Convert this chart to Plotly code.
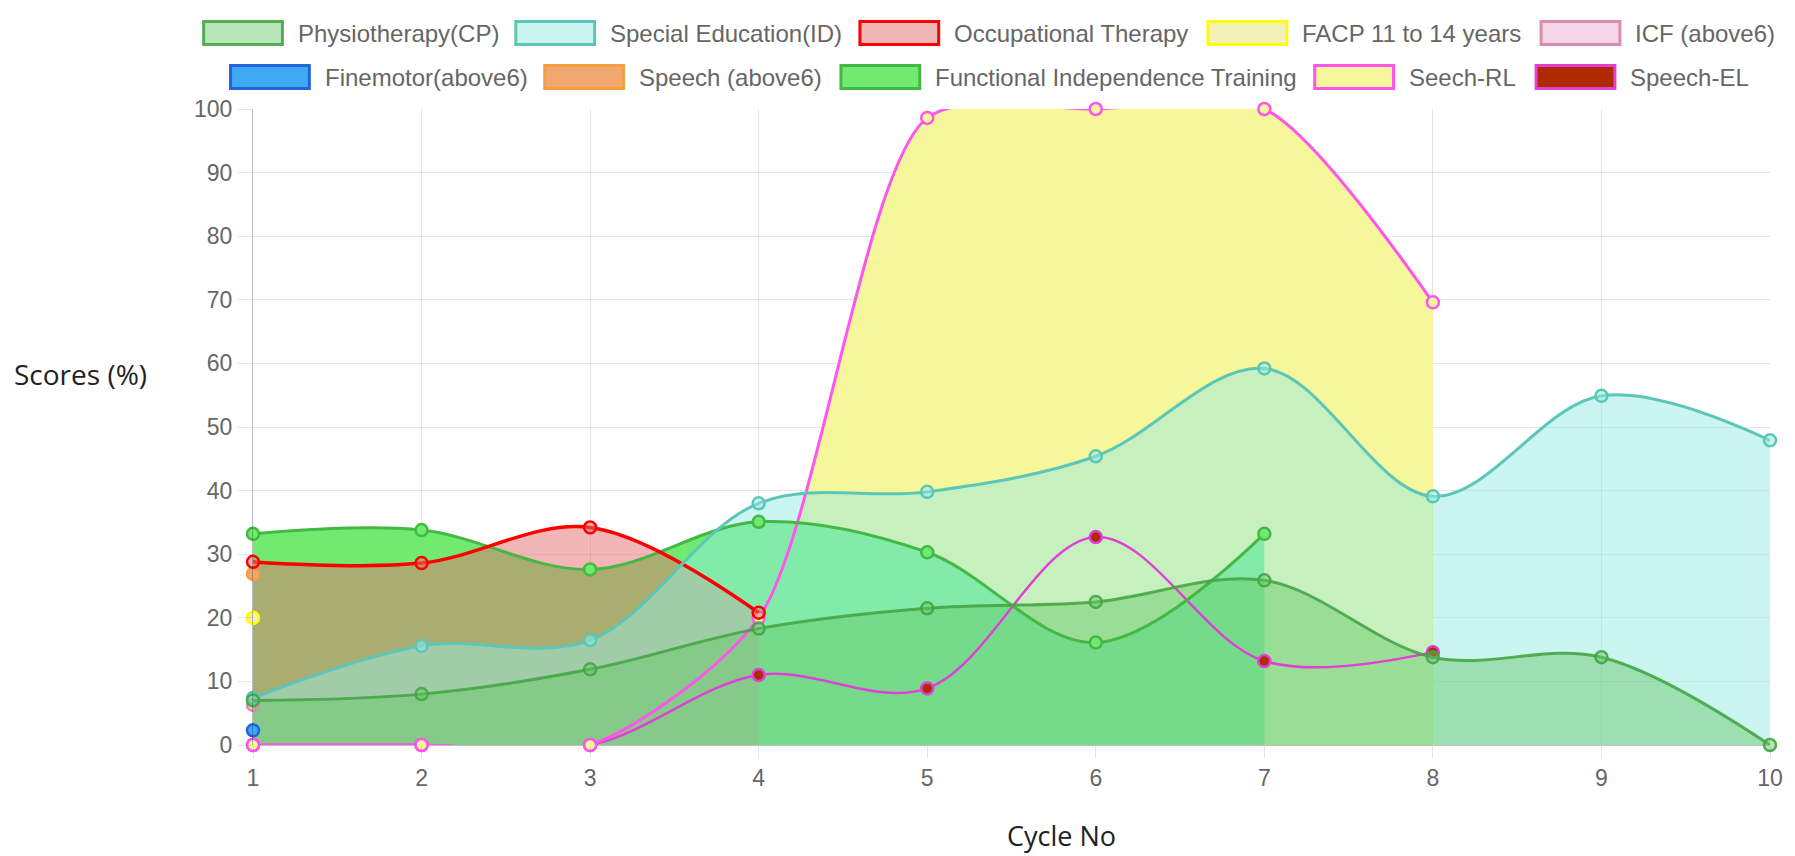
import plotly.graph_objects as go

# ---------------- data ----------------
cycles = [1, 2, 3, 4, 5, 6, 7, 8, 9, 10]
tick_labels = ["1", "2", "3", "4", "5", "6", "7", "8", "9", "10"]

physiotherapy = [7.0, 8.0, 11.9, 18.3, 21.5, 22.5, 25.9, 13.8, 13.8, 0]
special_education = [7.4, 15.6, 16.5, 38.0, 39.8, 45.4, 59.2, 39.1, 54.9, 47.9]
occupational = [28.8, 28.6, 34.2, 20.8]
facp = [20.0]
icf = [6.3]
finemotor = [2.3]
speech_above6 = [26.9]
functional = [33.2, 33.8, 27.6, 35.1, 30.3, 16.1, 33.2]
seech_rl = [0, 0, 0, 20.0, 98.6, 100, 100, 69.6]
speech_el = [0, 0, 0, 11.0, 8.9, 32.7, 13.2, 14.6]

# name, values, fill(rgba), border, point fill, has area fill, line width, smoothing
series = [
    ("Physiotherapy(CP)", physiotherapy, "rgba(100,200,100,0.45)", "rgba(70,165,70,0.9)", "rgba(100,200,100,0.45)", True, 3, 1.0),
    ("Special Education(ID)", special_education, "rgba(150,235,225,0.5)", "#5cc6b8", "rgba(150,235,225,0.5)", True, 3, 1.0),
    ("Occupational Therapy", occupational, "rgba(230,110,110,0.5)", "#ff0000", "rgba(230,110,110,0.5)", True, 3.5, 1.0),
    ("FACP 11 to 14 years", facp, "rgba(220,220,80,0.4)", "#ffff00", "rgba(240,240,190,1)", False, 3, 1.0),
    ("ICF (above6)", icf, "rgba(230,150,200,0.4)", "#d98fac", "rgba(230,150,200,0.4)", False, 3, 1.0),
    ("Finemotor(above6)", finemotor, "#3fa9f5", "#2563d9", "#3fa9f5", False, 3, 1.0),
    ("Speech (above6)", speech_above6, "#f0a870", "#f5a040", "#f0a870", False, 3, 1.0),
    ("Functional Independence Training", functional, "#70ea70", "#44b844", "#70ea70", True, 3, 1.0),
    ("Seech-RL", seech_rl, "#f6f79a", "#ff55ee", "#f6f79a", True, 3, 0.75),
    ("Speech-EL", speech_el, "#b02a00", "#e040d8", "#b02a00", False, 2.5, 1.0),
]

fig = go.Figure()

# fills first (Chart.js draws all fills before lines), last dataset first
for name, vals, fill, border, pfill, has_fill, lw, sm in reversed(series):
    if not has_fill:
        continue
    fig.add_trace(go.Scatter(
        x=cycles[:len(vals)], y=vals, mode="lines", fill="tozeroy",
        fillcolor=fill, line=dict(width=0, shape="spline", smoothing=sm, color=fill),
        hoverinfo="skip", showlegend=False))

# lines and points, last dataset first so dataset 0 ends on top
for name, vals, fill, border, pfill, has_fill, lw, sm in reversed(series):
    fig.add_trace(go.Scatter(
        x=cycles[:len(vals)], y=vals, mode="lines+markers", name=name,
        line=dict(width=lw, shape="spline", smoothing=sm, color=border),
        marker=dict(size=12, color=pfill, line=dict(width=2.5, color=border)),
        cliponaxis=False, showlegend=False))

W, H = 1795, 856
L, R, T, B = 253, 21, 109, 111
PW, PH = W - L - R, H - T - B


def px_x(px):
    return (px - L) / PW


def px_y(py):
    return (H - B - py) / PH


# manual Chart.js-like legend
legend_rows = [
    (20, [(0, 202), (1, 515), (2, 860), (3, 1209), (4, 1543)]),
    (64, [(5, 229), (6, 544), (7, 841), (8, 1316), (9, 1538)]),
]
shapes = []
annotations = []
for ytop, items in legend_rows:
    for idx, bx in items:
        name, vals, fill, border, pfill, has_fill, lw, sm = series[idx]
        shapes.append(dict(type="rect", xref="paper", yref="paper",
                           x0=px_x(bx + 1.5), x1=px_x(bx + 80.5),
                           y0=px_y(ytop + 24.5), y1=px_y(ytop + 1.5),
                           fillcolor=fill, line=dict(color=border, width=3), layer="above"))
        annotations.append(dict(text=name, xref="paper", yref="paper",
                                x=px_x(bx + 94), y=px_y(ytop + 13),
                                xanchor="left", yanchor="middle", showarrow=False,
                                font=dict(size=24, color="#666666",
                                          family="Liberation Sans, Arial, sans-serif")))

annotations.append(dict(text="Scores (%)", xref="paper", yref="paper",
                        x=px_x(80), y=px_y(374), xanchor="center", yanchor="middle",
                        showarrow=False, font=dict(size=28, color="#222222", family="Open Sans, sans-serif")))
annotations.append(dict(text="Cycle No", xref="paper", yref="paper",
                        x=px_x(1064), y=px_y(835), xanchor="center", yanchor="middle",
                        showarrow=False, font=dict(size=27, color="#222222", family="Open Sans, sans-serif")))

fig.update_layout(
    width=W, height=H, autosize=False,
    margin=dict(l=L, r=R, t=T, b=B, pad=0),
    paper_bgcolor="white", plot_bgcolor="white",
    font=dict(family="Liberation Sans, Arial, sans-serif", color="#666666", size=23),
    shapes=shapes, annotations=annotations,
    xaxis=dict(range=[1, 10], tickmode="array", tickvals=cycles, ticktext=tick_labels,
               showgrid=True, gridcolor="rgba(0,0,0,0.1)", gridwidth=1,
               ticks="outside", ticklen=12, tickcolor="rgba(0,0,0,0.1)", tickwidth=1,
               zeroline=False, showline=False, tickfont=dict(size=23, color="#666666")),
    yaxis=dict(range=[0, 100], tickmode="linear", tick0=0, dtick=10,
               showgrid=True, gridcolor="rgba(0,0,0,0.1)", gridwidth=1,
               ticks="outside", ticklen=15, tickcolor="rgba(0,0,0,0.1)", tickwidth=1,
               zeroline=True, zerolinecolor="rgba(0,0,0,0.25)", zerolinewidth=1,
               showline=True, linecolor="rgba(0,0,0,0.25)", linewidth=1,
               tickfont=dict(size=23, color="#666666")),
)

fig.write_html("out.html", config={"displayModeBar": False},
               post_script="document.body.style.margin='0px';document.body.style.overflow='hidden';")
